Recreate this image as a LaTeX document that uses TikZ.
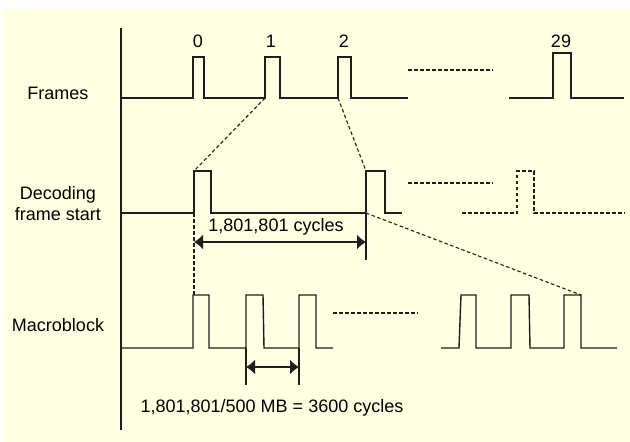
\documentclass[tikz,border=0pt]{standalone}
\usepackage{fontspec}
\setmainfont{Liberation Sans}
\usetikzlibrary{arrows.meta}
\definecolor{bgc}{RGB}{255,255,225}
\definecolor{lnc}{RGB}{30,30,30}
\begin{document}
\begin{tikzpicture}[x=1pt,y=-1pt,
  wave/.style={draw=lnc,line width=1.4pt,line join=miter},
  dsh/.style={draw=lnc,line width=1.1pt,dash pattern=on 3.5pt off 2.5pt},
  lbl/.style={font=\fontsize{18}{21}\selectfont,text=black,inner sep=0pt},
  dimarrow/.style={draw=lnc,line width=1.4pt,{Latex[length=9pt,width=15pt]}-{Latex[length=9pt,width=15pt]}}]
\useasboundingbox (0,0) rectangle (630,442);
\fill[bgc] (3,9) rectangle (630,442);
% axis
\coordinate (axtop) at (121,28);
\coordinate (axbot) at (121,430);
\draw[wave] (axtop) -- (axbot);
% row labels
\node[lbl] (lframes) at (58,93) {Frames};
\node[lbl,align=center] (ldec) at (58,204) {Decoding\\frame start};
\node[lbl] (lmb) at (58,325) {Macroblock};
% frames
\draw[wave] (121,98) -- (193,98) -- (193,57) -- (204,57) -- (204,98) -- (265,98) -- (265,57) -- (280,57) -- (280,98) -- (338,98) -- (338,57) -- (351,57) -- (351,98) -- (408,98);
\coordinate (f1) at (265,98);
\coordinate (f2) at (338,98);
\node[lbl] (n0) at (198,41) {0};
\node[lbl] (n1) at (271,41) {1};
\node[lbl] (n2) at (344,41) {2};
\node[lbl] (n29) at (561,41) {29};
\draw[dsh] (408,70) -- (493,70);
\draw[wave] (509,98) -- (553,98) -- (553,53) -- (571,53) -- (571,98) -- (624,98);
% decoding frame start
\draw[wave] (121,213) -- (194,213) -- (194,171) -- (211,171) -- (211,213) -- (366,213) -- (366,171) -- (385,171) -- (385,213) -- (402,213);
\coordinate (dAtop) at (194,171);
\coordinate (dAbot) at (194,213);
\coordinate (dBtop) at (366,171);
\coordinate (dBbot) at (366,213);
\draw[dsh] (408,183) -- (493,183);
\draw[dsh] (462,213) -- (517,213) -- (517,171) -- (534,171) -- (534,213) -- (625,213);
% macroblock
\draw[wave] (121,348) -- (193,348) -- (193,295) -- (209,295) -- (209,348) -- (246,348) -- (246,295) -- (263,295) -- (264,348) -- (299,348) -- (299,295) -- (316,295) -- (316,348) -- (333,348);
\draw[dsh] (333,313) -- (418,313);
\draw[wave] (441,348) -- (459,348) -- (461,295) -- (476,295) -- (476,348) -- (511,348) -- (511,295) -- (529,295) -- (530,348) -- (564,348) -- (564,295) -- (581,295) -- (581,348) -- (617,348);
\coordinate (m1top) at (194,295);
\coordinate (mlast) at (581,295);
% dashed connectors
\draw[dsh] (f1) -- (dAtop);
\draw[dsh] (f2) -- (dBtop);
\draw[dsh] (dBbot) -- (mlast);
\draw[dsh] (dAbot) -- (m1top);
% dimension 1
\coordinate (t1b) at (366,260);
\draw[wave] (dBbot) -- (t1b);
\coordinate (a1l) at (194,242);
\coordinate (a1r) at (366,242);
\draw[dimarrow] (a1l) -- (a1r);
\node[lbl] (c1) at (276,227) {1,801,801 cycles};
% dimension 2
\coordinate (t2a) at (246,348);
\coordinate (t2ab) at (246,385);
\coordinate (t2b) at (299,348);
\coordinate (t2bb) at (299,385);
\draw[wave] (t2a) -- (t2ab);
\draw[wave] (t2b) -- (t2bb);
\coordinate (a2l) at (246,367);
\coordinate (a2r) at (299,367);
\draw[dimarrow] (a2l) -- (a2r);
\node[lbl] (c2) at (272,408) {1,801,801/500 MB = 3600 cycles};
\end{tikzpicture}
\end{document}
